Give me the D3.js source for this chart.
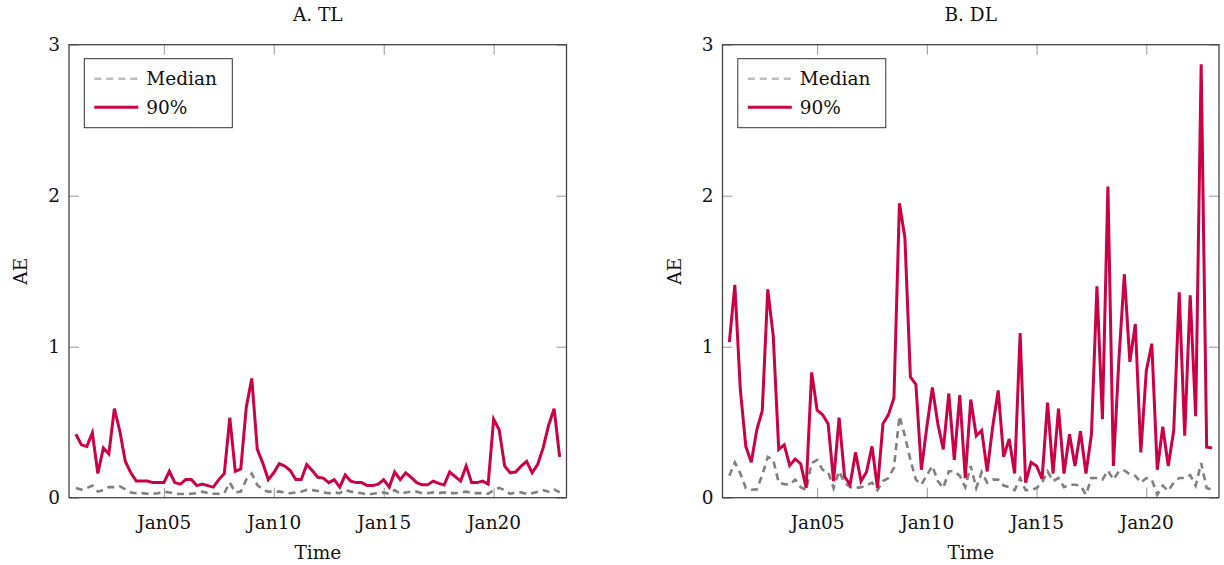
<!DOCTYPE html>
<html>
<head>
<meta charset="utf-8">
<script src="https://cdn.jsdelivr.net/npm/d3@7"></script>
<style>
    body { margin: 0; background: #fff; }
    svg text { font-family: "DejaVu Serif", serif; font-size: 18.5px; fill: #111; }
</style>
</head>
<body>
<svg id="chart" width="1224" height="565"></svg>
<script>
// 6-hourly samples, Jan01 00:00 to Jan23 00:00 (89 points)
const START = Date.UTC(2021, 0, 1);
const STEP_HOURS = 6;

const tickDays = [5, 10, 15, 20];
const yTicks = [0, 1, 2, 3];
const seriesNames = ["Median", "90%"];

const tlMedian = [
    0.064, 0.053, 0.064, 0.08, 0.04, 0.05, 0.07, 0.07, 0.075, 0.055,
    0.035, 0.03, 0.03, 0.026, 0.025, 0.03, 0.04, 0.035, 0.026, 0.025,
    0.025, 0.026, 0.03, 0.04, 0.03, 0.026, 0.026, 0.03, 0.10, 0.035,
    0.04, 0.12, 0.16, 0.085, 0.053, 0.04, 0.04, 0.04, 0.035, 0.03,
    0.035, 0.04, 0.053, 0.05, 0.045, 0.035, 0.03, 0.035, 0.03, 0.053,
    0.04, 0.035, 0.03, 0.02, 0.026, 0.03, 0.035, 0.026, 0.05, 0.026,
    0.035, 0.04, 0.04, 0.03, 0.03, 0.035, 0.03, 0.035, 0.03, 0.03,
    0.035, 0.04, 0.03, 0.03, 0.03, 0.026, 0.05, 0.065, 0.05, 0.026,
    0.035, 0.035, 0.026, 0.03, 0.04, 0.05, 0.04, 0.055, 0.035
];

const tl90 = [
    0.42, 0.35, 0.34, 0.43, 0.16, 0.33, 0.29, 0.59, 0.44, 0.24,
    0.165, 0.11, 0.11, 0.11, 0.10, 0.10, 0.10, 0.175, 0.10, 0.09,
    0.12, 0.12, 0.08, 0.09, 0.08, 0.07, 0.12, 0.16, 0.53, 0.175,
    0.19, 0.60, 0.79, 0.32, 0.23, 0.12, 0.165, 0.225, 0.21, 0.18,
    0.12, 0.12, 0.22, 0.18, 0.135, 0.13, 0.10, 0.12, 0.07, 0.15,
    0.11, 0.10, 0.10, 0.08, 0.08, 0.09, 0.12, 0.07, 0.17, 0.12,
    0.165, 0.135, 0.10, 0.085, 0.085, 0.11, 0.095, 0.085, 0.17, 0.14,
    0.11, 0.21, 0.10, 0.10, 0.11, 0.09, 0.52, 0.45, 0.21, 0.165,
    0.17, 0.21, 0.24, 0.165, 0.22, 0.33, 0.48, 0.59, 0.27
];

const dlMedian = [
    0.145, 0.234, 0.16, 0.064, 0.053, 0.055, 0.15, 0.27, 0.25, 0.10,
    0.09, 0.086, 0.12, 0.07, 0.05, 0.23, 0.25, 0.185, 0.17, 0.064,
    0.175, 0.10, 0.07, 0.064, 0.07, 0.08, 0.10, 0.05, 0.11, 0.13,
    0.20, 0.54, 0.41, 0.25, 0.12, 0.086, 0.15, 0.21, 0.11, 0.064,
    0.175, 0.175, 0.145, 0.07, 0.21, 0.064, 0.17, 0.10, 0.12, 0.12,
    0.08, 0.07, 0.05, 0.13, 0.05, 0.05, 0.064, 0.10, 0.175, 0.11,
    0.13, 0.07, 0.086, 0.086, 0.08, 0.02, 0.13, 0.13, 0.12, 0.18,
    0.12, 0.175, 0.18, 0.155, 0.145, 0.10, 0.13, 0.12, 0.02, 0.08,
    0.045, 0.10, 0.13, 0.13, 0.15, 0.08, 0.23, 0.064, 0.053
];

const dl90 = [
    1.03, 1.41, 0.715, 0.34, 0.234, 0.45, 0.576, 1.38, 1.07, 0.32,
    0.35, 0.214, 0.256, 0.225, 0.064, 0.83, 0.58, 0.55, 0.49, 0.11,
    0.53, 0.14, 0.086, 0.30, 0.11, 0.17, 0.34, 0.064, 0.49, 0.55,
    0.66, 1.95, 1.72, 0.80, 0.75, 0.185, 0.47, 0.73, 0.49, 0.32,
    0.69, 0.25, 0.68, 0.13, 0.65, 0.41, 0.445, 0.174, 0.47, 0.71,
    0.27, 0.39, 0.16, 1.09, 0.10, 0.234, 0.21, 0.124, 0.63, 0.16,
    0.59, 0.16, 0.42, 0.21, 0.44, 0.16, 0.42, 1.40, 0.52, 2.06,
    0.21, 0.91, 1.48, 0.90, 1.15, 0.30, 0.84, 1.02, 0.185, 0.47,
    0.21, 0.445, 1.36, 0.41, 1.34, 0.54, 2.87, 0.335, 0.33
];

const MEDIAN_COLOR = "#808080";
const MEDIAN_LEGEND_COLOR = "#bdbdbd";
const P90_COLOR = "#cc0044";
const FRAME_COLOR = "#444";
const TICK_COLOR = "#999";
const TICK_LEN = 10;

const PLOT_TOP = 44.7;
const PLOT_BOTTOM = 497.7;

const panels = [
    {title: "A. TL", left: 69, right: 566.5, median: tlMedian, p90: tl90},
    {title: "B. DL", left: 722.5, right: 1219, median: dlMedian, p90: dl90}
];

const svg = d3.select("#chart");

function toPoints(values) {
    return values.map(function(v, i) {
	return {t: new Date(START + i * STEP_HOURS * 3600 * 1000), v: v};
    });
}


function drawPanel(p) {
    const n = p.p90.length;
    const pad = 7.5 * 3600 * 1000;
    const tFirst = new Date(START);
    const tLast = new Date(START + (n - 1) * STEP_HOURS * 3600 * 1000);

    let x = d3.scaleUtc()
	.domain([new Date(+tFirst - pad), new Date(+tLast + pad)])
	.range([p.left, p.right]);

    let y = d3.scaleLinear()
	.domain([0, 3])
	.range([PLOT_BOTTOM, PLOT_TOP]);

    const xTickVals = tickDays.map(function(d) { return new Date(Date.UTC(2021, 0, d)); });
    const g = svg.append("g");

    // ticks, drawn inward on all four sides
    const bottom = g.append("g")
	.attr("transform", `translate(0,${PLOT_BOTTOM})`)
	.call(d3.axisBottom(x).tickValues(xTickVals)
	      .tickFormat(d3.utcFormat("%b%d"))
	      .tickSize(-TICK_LEN).tickPadding(18));
    const top = g.append("g")
	.attr("transform", `translate(0,${PLOT_TOP})`)
	.call(d3.axisTop(x).tickValues(xTickVals).tickFormat("").tickSize(-TICK_LEN));
    const left = g.append("g")
	.attr("transform", `translate(${p.left},0)`)
	.call(d3.axisLeft(y).tickValues(yTicks).tickFormat(d3.format("d"))
	      .tickSize(-TICK_LEN).tickPadding(9));
    const right = g.append("g")
	.attr("transform", `translate(${p.right},0)`)
	.call(d3.axisRight(y).tickValues(yTicks).tickFormat("").tickSize(-TICK_LEN));

    [bottom, top, left, right].forEach(function(a) {
	a.select(".domain").remove();
	a.selectAll("line").attr("stroke", TICK_COLOR).attr("stroke-width", 1);
	a.selectAll("text")
	    .attr("fill", "#111")
	    .style("font-family", "DejaVu Serif, serif")
	    .style("font-size", "18.5px");
    });

    // series
    const line = d3.line()
	.x(function(d) { return x(d.t); })
	.y(function(d) { return y(d.v); });

    g.append("path")
	.datum(toPoints(p.median))
	.attr("d", line)
	.attr("fill", "none")
	.attr("stroke", MEDIAN_COLOR)
	.attr("stroke-width", 2.6)
	.attr("stroke-dasharray", "7,5");

    g.append("path")
	.datum(toPoints(p.p90))
	.attr("d", line)
	.attr("fill", "none")
	.attr("stroke", P90_COLOR)
	.attr("stroke-width", 3)
	.attr("stroke-linejoin", "miter");

    // frame
    g.append("rect")
	.attr("x", p.left)
	.attr("y", PLOT_TOP)
	.attr("width", p.right - p.left)
	.attr("height", PLOT_BOTTOM - PLOT_TOP)
	.attr("fill", "none")
	.attr("stroke", FRAME_COLOR)
	.attr("stroke-width", 1.3);

    // title and axis labels
    const cx = (p.left + p.right) / 2;
    g.append("text")
	.text(p.title)
	.attr("x", cx)
	.attr("y", 21)
	.attr("text-anchor", "middle");

    g.append("text")
	.text("Time")
	.attr("x", cx)
	.attr("y", 559)
	.attr("text-anchor", "middle");

    g.append("text")
	.text("AE")
	.attr("text-anchor", "middle")
	.attr("transform", `translate(${p.left - 42},${(PLOT_TOP + PLOT_BOTTOM) / 2}) rotate(270)`);

    // legend
    const lx = p.left + 15.3;
    const ly = 58.7;
    const leg = g.append("g");
    leg.append("rect")
	.attr("x", lx)
	.attr("y", ly)
	.attr("width", 148)
	.attr("height", 69)
	.attr("fill", "#fff")
	.attr("stroke", "#333")
	.attr("stroke-width", 1);

    const legendStyles = [
	{color: MEDIAN_LEGEND_COLOR, dash: "7,5", width: 2.6},
	{color: P90_COLOR, dash: null, width: 3}
    ];

    seriesNames.forEach(function(name, i) {
	const yy = ly + 20 + i * 28.6;
	const s = legendStyles[i];
	leg.append("line")
	    .attr("x1", lx + 10)
	    .attr("x2", lx + 54)
	    .attr("y1", yy)
	    .attr("y2", yy)
	    .attr("stroke", s.color)
	    .attr("stroke-width", s.width)
	    .attr("stroke-dasharray", s.dash);
	leg.append("text")
	    .text(name)
	    .attr("x", lx + 62)
	    .attr("y", yy)
	    .attr("dy", "0.36em");
    });
}

panels.forEach(drawPanel);
</script>
</body>
</html>
